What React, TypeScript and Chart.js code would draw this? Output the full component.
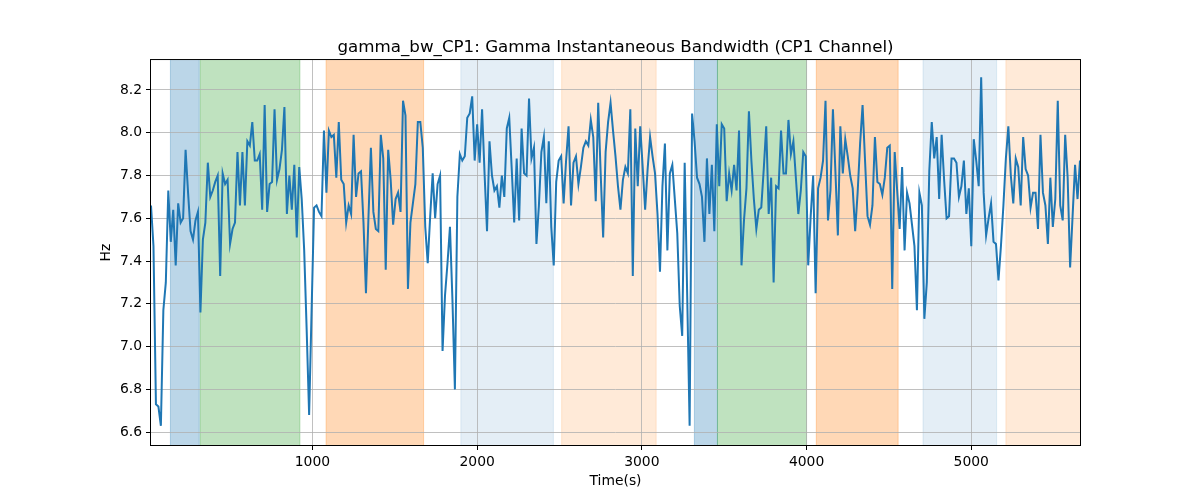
import { useEffect, useRef } from 'react';
import { Chart, registerables } from 'chart.js';

Chart.register(...registerables);

// sampling of the signal (seconds)
const t0 = 20;
const dt = 15;

// gamma instantaneous bandwidth, Hz
const bandwidth = [
  7.66, 7.47, 6.73, 6.72, 6.63, 7.17, 7.30, 7.73, 7.49, 7.64,
  7.38, 7.67, 7.58, 7.60, 7.92, 7.72, 7.54, 7.50, 7.59, 7.63,
  7.16, 7.50, 7.58, 7.86, 7.70, 7.73, 7.77, 7.80, 7.33, 7.81,
  7.76, 7.78, 7.48, 7.55, 7.58, 7.91, 7.66, 7.91, 7.66, 7.96,
  7.94, 8.05, 7.87, 7.87, 7.90, 7.64, 8.13, 7.63,
  7.76, 7.77, 8.11, 7.78, 7.83, 7.92, 8.12, 7.62, 7.80, 7.64,
  7.85, 7.51, 7.84, 7.69, 7.45, 7.08, 6.68, 7.17, 7.65, 7.66,
  7.63, 7.61, 8.01, 7.72, 8.01, 7.98, 7.99, 7.79, 8.05, 7.78,
  7.76, 7.58, 7.66, 7.62, 7.99, 7.70, 7.81, 7.82, 7.58, 7.25,
  7.60, 7.93, 7.63, 7.55, 7.54, 7.99, 7.88, 7.36,
  7.92, 7.78, 7.57, 7.69, 7.72, 7.63, 8.15, 8.08, 7.27, 7.58,
  7.67, 7.76, 8.05, 8.05, 7.93, 7.56, 7.39, 7.61, 7.81, 7.60,
  7.76, 7.80, 6.98, 7.24, 7.39, 7.56, 7.22, 6.80, 7.70, 7.90,
  7.87, 7.89, 8.07, 8.09, 8.17, 7.87, 8.04, 7.86, 8.11, 7.81,
  7.54, 7.96, 7.80, 7.73, 7.75, 7.65, 7.80,
  7.70, 8.02, 8.07, 7.83, 7.58, 7.88, 7.59, 8.02, 7.81, 7.80,
  8.16, 7.88, 7.93, 7.48, 7.66, 7.91, 7.98, 7.67, 7.96, 7.56,
  7.38, 7.77, 7.87, 7.89, 7.67, 7.87, 8.03, 7.66, 7.86, 7.89,
  7.76, 7.84, 7.93, 7.96, 7.94, 8.06, 7.98, 7.68, 8.14, 7.81,
  7.51, 7.91, 8.05, 8.14, 8.01, 7.89, 7.75,
  7.64, 7.78, 7.84, 7.81, 8.11, 7.33, 8.02, 7.75, 8.03, 7.84,
  7.64, 7.83, 7.98, 7.89, 7.81, 7.62, 7.35, 7.75, 7.95, 7.45,
  7.81, 7.85, 7.69, 7.53, 7.19, 7.05, 7.86, 7.25, 6.63, 8.09,
  7.96, 7.79, 7.76, 7.70, 7.49, 7.88, 7.62, 7.85, 7.54, 8.04,
  7.75, 8.04, 8.02, 7.68, 7.81, 7.73, 7.85, 7.73,
  8.01, 7.38, 7.59, 7.74, 8.10, 7.87, 7.69, 7.55, 7.64, 7.65,
  7.83, 8.03, 7.62, 7.79, 7.30, 7.75, 7.74, 8.01, 7.81, 7.81,
  8.06, 7.90, 7.96, 7.79, 7.62, 7.73, 7.91, 7.89, 7.38, 7.61,
  7.80, 7.25, 7.74, 7.79, 7.87, 8.15, 7.59, 7.73, 8.11, 7.82,
  7.52, 8.03, 7.81, 7.97, 7.89, 7.80, 7.74,
  7.54, 7.72, 7.95, 8.13, 7.87, 7.61, 7.57, 7.66, 7.98, 7.77,
  7.76, 7.71, 7.79, 7.93, 7.94, 7.27, 7.91, 7.73, 7.55, 7.84,
  7.45, 7.72, 7.67, 7.57, 7.47, 7.17, 7.72, 7.66, 7.13, 7.30,
  7.82, 8.05, 7.88, 7.98, 7.69, 7.99, 7.78, 7.60, 7.61, 7.88,
  7.88, 7.86, 7.70, 7.75, 7.87, 7.62, 7.74,
  7.47, 7.97, 7.87, 7.75, 8.26, 7.72, 7.52, 7.60, 7.67, 7.49,
  7.48, 7.31, 7.47, 7.66, 7.88, 8.03, 7.80, 7.67, 7.88, 7.84,
  7.66, 7.98, 7.83, 7.80, 7.65, 7.72, 7.72, 7.55, 7.99, 7.72,
  7.66, 7.48, 7.79, 7.56, 7.69, 8.15, 7.66, 7.59, 7.99, 7.79,
  7.37, 7.61, 7.85, 7.69, 7.87,
];

// shaded phases (seconds)
const bandStart = [138, 319, 1083, 1901, 2513, 3319, 3459, 4059, 4707, 5210];
const bandEnd = [313, 924, 1675, 2463, 3087, 3459, 4000, 4556, 5154, 5700];
const bandPhase = ['blue', 'green', 'orange', 'lightblue', 'lightorange', 'blue', 'green', 'orange', 'lightblue', 'lightorange'];

const xTicks = [1000, 2000, 3000, 4000, 5000];
const yTicks = [6.6, 6.8, 7.0, 7.2, 7.4, 7.6, 7.8, 8.0, 8.2];

const phaseColors: Record<string, string> = {
  blue: 'rgba(31,119,180,0.3)',
  green: 'rgba(44,160,44,0.3)',
  orange: 'rgba(255,127,14,0.3)',
  lightblue: 'rgba(31,119,180,0.12)',
  lightorange: 'rgba(255,127,14,0.16)',
};

const FONT = 'DejaVu Sans';

const bandsPlugin = {
  id: 'bands',
  beforeDraw(chart: any) {
    const { ctx, chartArea, scales } = chart;
    ctx.save();
    ctx.beginPath();
    ctx.rect(chartArea.left, chartArea.top, chartArea.width, chartArea.height);
    ctx.clip();
    bandStart.forEach((s, i) => {
      const x1 = scales.x.getPixelForValue(s);
      const x2 = scales.x.getPixelForValue(bandEnd[i]);
      const c = phaseColors[bandPhase[i]];
      ctx.fillStyle = c;
      ctx.fillRect(x1, chartArea.top, x2 - x1, chartArea.height);
      ctx.strokeStyle = c;
      ctx.lineWidth = 1;
      ctx.beginPath();
      ctx.moveTo(x1, chartArea.top);
      ctx.lineTo(x1, chartArea.bottom);
      ctx.moveTo(x2, chartArea.top);
      ctx.lineTo(x2, chartArea.bottom);
      ctx.stroke();
    });
    ctx.restore();
  },
};

const framePlugin = {
  id: 'frame',
  afterDraw(chart: any) {
    const { ctx, chartArea } = chart;
    ctx.save();
    ctx.strokeStyle = '#000';
    ctx.lineWidth = 1;
    ctx.strokeRect(chartArea.left - 0.5, chartArea.top - 0.5, chartArea.width + 1, chartArea.height + 1);
    ctx.restore();
  },
};

const App = () => {
  const chartRef = useRef<HTMLCanvasElement>(null);

  useEffect(() => {
    if (!chartRef.current) return;
    const points = bandwidth.map((v, i) => ({ x: t0 + i * dt, y: v }));
    const tickFont = { family: FONT, size: 13.9 };

    const chart = new Chart(chartRef.current, {
      type: 'line',
      data: {
        datasets: [{
          data: points,
          borderColor: '#1f77b4',
          borderWidth: 2,
          pointRadius: 0,
          fill: false,
          tension: 0,
        }],
      },
      options: {
        responsive: false,
        animation: false,
        layout: { padding: { left: 0, right: 120, top: 0, bottom: 0 } },
        plugins: {
          legend: { display: false },
          tooltip: { enabled: false },
          title: {
            display: true,
            text: 'gamma_bw_CP1: Gamma Instantaneous Bandwidth (CP1 Channel)',
            color: '#000',
            font: { family: FONT, size: 16.7, weight: 'normal' },
            padding: { top: 38, bottom: 2 },
            fullSize: false,
          },
        },
        scales: {
          x: {
            type: 'linear',
            min: t0,
            max: 5660,
            afterBuildTicks: (axis: any) => { axis.ticks = xTicks.map(v => ({ value: v })); },
            afterFit: (axis: any) => { axis.height = 55; },
            ticks: {
              color: '#000',
              font: tickFont,
              padding: 4,
              maxRotation: 0,
              autoSkip: false,
              callback: (v: any) => String(v),
            },
            grid: { color: '#b0b0b0', lineWidth: 0.8, tickColor: '#000', tickLength: 5, tickWidth: 1 },
            border: { display: false },
            title: { display: true, text: 'Time(s)', color: '#000', font: tickFont, padding: { top: 0, bottom: 10.7 } },
          },
          y: {
            type: 'linear',
            min: 6.54,
            max: 8.34,
            afterBuildTicks: (axis: any) => { axis.ticks = yTicks.map(v => ({ value: v })); },
            afterFit: (axis: any) => { axis.width = 151; },
            ticks: {
              color: '#000',
              font: tickFont,
              padding: 4,
              autoSkip: false,
              callback: (v: any) => Number(v).toFixed(1),
            },
            grid: { color: '#b0b0b0', lineWidth: 0.8, tickColor: '#000', tickLength: 5, tickWidth: 1 },
            border: { display: false },
            title: { display: true, text: 'Hz', color: '#000', font: tickFont, padding: { top: 97.7, bottom: 0 } },
          },
        },
      },
      plugins: [bandsPlugin, framePlugin],
    } as any);

    return () => {
      chart.destroy();
    };
  }, []);

  return (
    <div style={{ position: 'fixed', left: 0, top: 0, width: 1200, height: 500, background: '#fff' }}>
      <canvas ref={chartRef} width={1200} height={500} style={{ width: 1200, height: 500 }}></canvas>
    </div>
  );
};

export default App;
